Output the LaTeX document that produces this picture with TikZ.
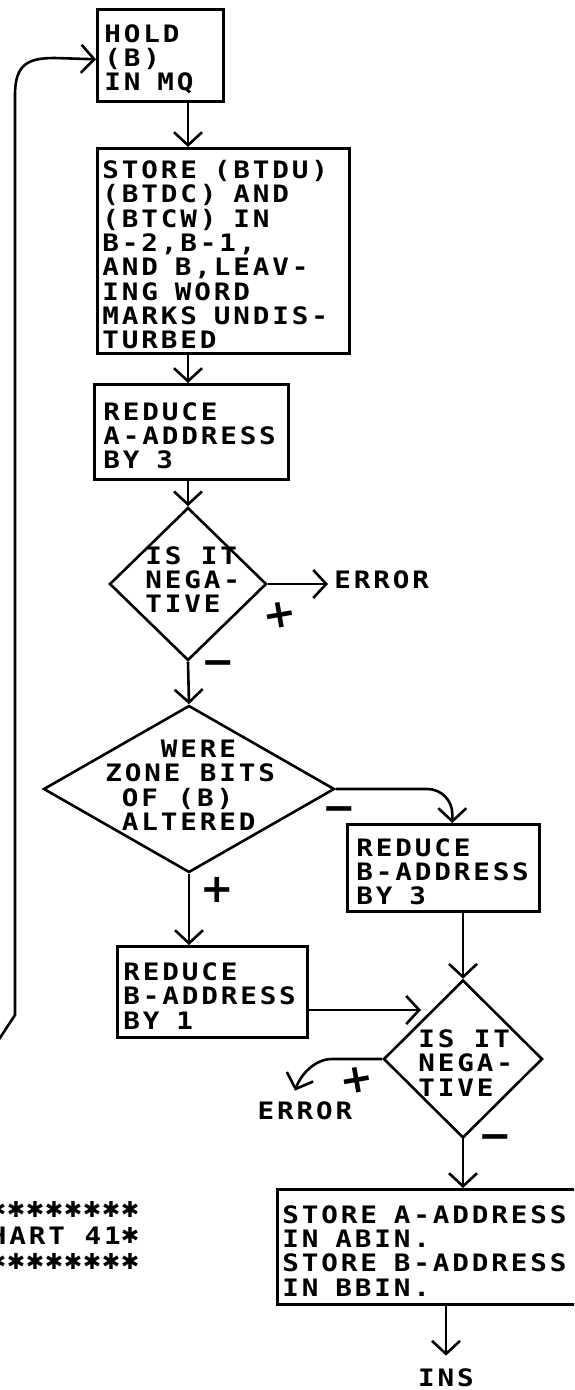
\documentclass[tikz,border=0pt]{standalone}
\usepackage{fontspec}
\usetikzlibrary{arrows.meta,shapes.geometric,calc}
% printer-style monospaced lettering
\newfontfamily\chartfont[FakeStretch=1.15,LetterSpace=12]{DejaVu Sans Mono}
\newfontfamily\markfont{DejaVu Sans}
\newcommand\cstar{\makebox[19pt][c]{\raisebox{1pt}{\markfont\bfseries\fontsize{22}{22}\selectfont ✱}}}
\hyphenpenalty=10000
\exhyphenpenalty=10000
\begin{document}
\begin{tikzpicture}[x=1pt,y=-1pt,
  line width=2.6pt,
  every node/.style={font=\chartfont\bfseries\fontsize{24}{24.3}\selectfont},
  arr/.style={-{Straight Barb[length=13pt,width=28pt]}},
  procbox/.style={draw, rectangle, anchor=north west, align=left, inner ysep=0pt,
    execute at begin node={\spaceskip=17pt\relax\xspaceskip=17pt\relax\rule{0pt}{26pt}}},
  decision/.style={draw, diamond, inner sep=0pt},
  dtext/.style={align=left, inner sep=0pt, anchor=west},
  sign/.style={font=\markfont\bfseries\fontsize{40}{40}\selectfont, inner sep=0pt},
]
\useasboundingbox (0,0) rectangle (574,1390);
\clip (0,0) rectangle (574,1390);

% process boxes
\node[procbox, minimum width=126pt, minimum height=92pt, inner xsep=7pt, text width=112pt]
  (hold) at (96,8) {HOLD\\(B)\\IN MQ};
\node[procbox, minimum width=252pt, minimum height=205pt, inner xsep=5pt, text width=242pt]
  (store1) at (96,147) {STORE (BTDU)\\(BTDC) AND\\(BTCW) IN\\B-2,B-1,\\AND B,LEAV-\\ING WORD\\MARKS UNDIS-\\TURBED};
\node[procbox, minimum width=194pt, minimum height=95pt, inner xsep=9pt, text width=176pt]
  (redA) at (93,383) {REDUCE\\A-ADDRESS\\BY 3};
\node[procbox, minimum width=192pt, minimum height=87pt, inner xsep=9pt, text width=174pt]
  (redB3) at (346,823) {REDUCE\\B-ADDRESS\\BY 3};
\node[procbox, minimum width=190pt, minimum height=91pt, inner xsep=6pt, text width=178pt]
  (redB1) at (116,945) {REDUCE\\B-ADDRESS\\BY 1};
\node[procbox, minimum width=330pt, minimum height=115pt, inner xsep=5pt, text width=320pt]
  (storeA) at (276,1188) {STORE A-ADDRESS\\IN ABIN.\\STORE B-ADDRESS\\IN BBIN.};

% decisions
\node[decision, minimum width=157pt, minimum height=153pt] (d1) at (188,584) {};
\node[dtext] (d1t) at (144,579.5) {IS IT\\NEGA-\\TIVE};
\node[decision, minimum width=291pt, minimum height=167pt] (d2) at (189,789) {};
\node[dtext] (d2t) at (104,785) {\phantom{ZON}WERE\\ZONE BITS\\\phantom{Z}OF (B)\\\phantom{Z}ALTERED};
\node[decision, minimum width=159pt, minimum height=158pt] (d3) at (463,1059) {};
\node[dtext] (d3t) at (417,1063) {IS IT\\NEGA-\\TIVE};

% exits
\node[anchor=west, inner sep=5pt] (err1) at (328,580) {ERROR};
\node[inner sep=0pt] (err2) at (305,1111) {ERROR};
\node[inner sep=0pt] (ins) at (446,1378) {INS};

% branch signs
\node[sign, rotate=10] (p1) at (280,615) {+};
\node[sign] (m1) at (218,668) {−};
\node[sign] (m2) at (339,814) {−};
\node[sign] (p2) at (217,890) {+};
\node[sign, rotate=10] (p3) at (357,1080) {+};
\node[sign] (m3) at (495,1142) {−};

% page label
\node[anchor=east, align=right, inner sep=0pt,
  font=\chartfont\bfseries\fontsize{24}{26}\selectfont] (chart) at (141,1235.5)
  {\cstar\cstar\cstar\cstar\cstar\cstar\cstar\cstar\cstar\cstar\\CHART 41\cstar\\\cstar\cstar\cstar\cstar\cstar\cstar\cstar\cstar\cstar\cstar};

% connectors
\coordinate (b1in) at (421,1010);
\coordinate (loopin) at (-10,1053);

\draw[arr] (hold.south -| d1.north) -- (store1.north -| d1.north);
\draw[arr] (store1.south -| d1.north) -- (redA.north -| d1.north);
\draw[arr] (redA.south -| d1.north) -- (d1.north);
\draw[arr] (d1.east) -- (d1.east -| err1.west);
\draw[arr] (d1.south) -- (d2.north);
\draw[arr, rounded corners=25pt] (d2.east) -| ($(redB3.north)+(9,0)$);
\draw[arr] (d2.south) -- (redB1.north -| d2.south);
\draw[arr] (redB1.east |- b1in) -- (b1in);
\draw[arr] (redB3.south -| d3.north) -- (d3.north);
\draw[arr] (d3.west) -- ++(-50,0) .. controls (315,1059) and (301,1074) .. ($(err2.north)+(-10,-10)$);
\draw[arr] (d3.south) -- (d3.south |- storeA.north);
\draw[arr] (storeA.south -| ins.north) -- ($(ins.north)+(0,-12)$);
\draw[arr] (loopin) -- (15,1015) -- (15,95) .. controls (15,64) and (28,58) .. (55,58) -- ($(hold.west)+(0,4)$);
\end{tikzpicture}
\end{document}
